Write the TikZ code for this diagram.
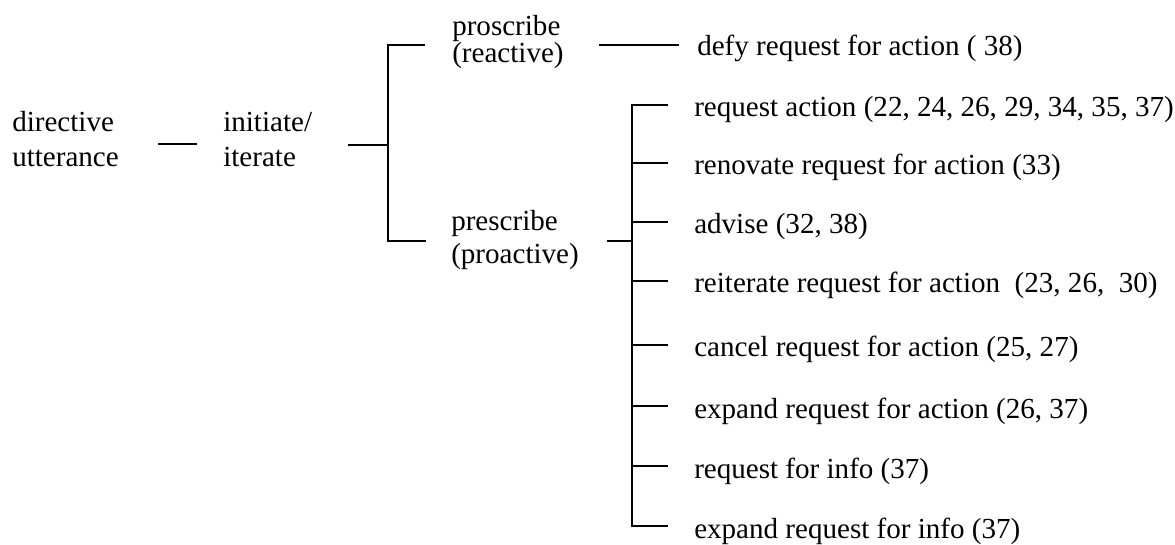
\documentclass[tikz,border=0pt]{standalone}
\usepackage{fontspec}
\setmainfont{Liberation Serif}
\newcommand\twolines[3]{\begin{tabular}[t]{@{}l@{}}#1\\[#3]#2\end{tabular}}
\begin{document}
\begin{tikzpicture}[x=0.75pt,y=-0.75pt,
  lbl/.style={anchor=base west,inner sep=0pt,font=\fontsize{21.8}{25}\selectfont},
  conn/.style={line width=1.3pt,line join=miter,line cap=rect}]
\useasboundingbox (0,0) rectangle (1175,545);
% text nodes
\node[lbl] (du) at (12,132) {\twolines{directive}{utterance}{1.25pt}};
\node[lbl] (ii) at (223,132) {\twolines{initiate/}{iterate}{1.25pt}};
\node[lbl] (pr) at (452,36) {\twolines{proscribe}{(reactive)}{-4.75pt}};
\node[lbl] (pp) at (451,231) {\twolines{prescribe}{(proactive)}{-0.9pt}};
\node[lbl] (defy) at (697,56) {defy request for action ( 38)};
\foreach \n/\y/\t in {
  i1/117/{request action (22, 24, 26, 29, 34, 35, 37)},
  i2/175/{renovate request for action (33)},
  i3/234/{advise (32, 38)},
  i4/293/{reiterate request for action~ (23, 26,~ 30)},
  i5/357/{cancel request for action (25, 27)},
  i6/418/{expand request for action (26, 37)},
  i7/478/{request for info (37)},
  i8/538/{expand request for info (37)}}
  \node[lbl] (\n) at (694,\y) {\t};
% junction coordinates
\coordinate (a1) at (159,144);
\coordinate (a2) at (196,144);
\coordinate (b0) at (349,145);
\coordinate (b1) at (388,145);
\coordinate (bt) at (424,45);
\coordinate (bb) at (425,241);
\coordinate (c1) at (600,45);
\coordinate (c2) at (678,45);
\coordinate (d0) at (608,241);
\coordinate (d1) at (632,241);
% connectors
\draw[conn] (a1) -- (a2);
\draw[conn] (b0) -- (b1);
\draw[conn] (bt) -| (b1) |- (bb);
\draw[conn] (c1) -- (c2);
\draw[conn] (d0) -- (d1);
\draw[conn] (667,105) -| (632,526) -- (667,526);
\foreach \y in {163,222,281,345,406,466}
  \draw[conn] (632,\y) -- (667,\y);
\end{tikzpicture}
\end{document}
